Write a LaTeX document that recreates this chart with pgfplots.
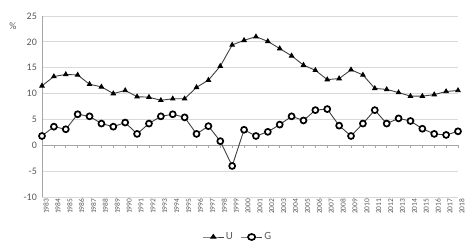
\documentclass[border=0pt]{standalone}
\usepackage{fontspec}
\setmainfont{Carlito}
\usepackage{pgfplots}
\pgfplotsset{compat=1.18}
\definecolor{txt}{HTML}{595959}
\definecolor{grd}{HTML}{D9D9D9}
\definecolor{ax}{HTML}{A6A6A6}
\definecolor{ln}{HTML}{404040}
\begin{document}
\begin{tikzpicture}
\begin{axis}[
  scale only axis, width=416bp, height=181bp,
  xmin=1983, xmax=2018, ymin=-10, ymax=25,
  xtick={1983,...,2018}, ytick={-10,-5,...,25},
  /pgf/number format/assume math mode=true,
  xticklabel={\pgfmathprintnumber[1000 sep={}]{\tick}},
  xticklabel style={rotate=90, anchor=east, font=\fontsize{7.5}{8}\selectfont, text=txt, inner sep=1.5pt, yshift=-4bp},
  yticklabel style={font=\fontsize{10}{11}\selectfont, text=txt, inner sep=2pt, xshift=-3bp},
  axis y line*=left, axis x line*=bottom,
  x axis line style={draw=none},
  y axis line style={draw=ax, line width=0.8pt, -},
  major tick length=0pt,
  ymajorgrids, grid style={grd, line width=0.8pt},
  clip=false,
  legend style={at={(0.471,-0.221)}, anchor=center, draw=none, fill=none,
    font=\fontsize{11}{12}\selectfont, text=txt, legend columns=2,
    /tikz/every even column/.append style={column sep=6pt}},
  legend image post style={xscale=1.2},
]
\draw[ax, line width=0.8pt] (axis cs:1983,0) -- (axis cs:2018,0);
\pgfplotsinvokeforeach{1983,...,2018}{\draw[ax, line width=0.6pt] (axis cs:#1,0) -- ++(0pt,-3bp);}
\addplot[ln, line width=0.9pt, mark=triangle*, mark size=2.5pt, mark options={fill=black, draw=black}] coordinates {
(1983,11.5)(1984,13.3)(1985,13.7)(1986,13.6)(1987,11.8)(1988,11.3)(1989,10.0)(1990,10.6)
(1991,9.4)(1992,9.3)(1993,8.7)(1994,9.0)(1995,9.0)(1996,11.2)(1997,12.6)(1998,15.3)
(1999,19.4)(2000,20.3)(2001,21.0)(2002,20.1)(2003,18.7)(2004,17.3)(2005,15.5)(2006,14.5)
(2007,12.7)(2008,12.9)(2009,14.6)(2010,13.6)(2011,11.0)(2012,10.8)(2013,10.2)(2014,9.5)
(2015,9.5)(2016,9.8)(2017,10.4)(2018,10.6)};
\addlegendentry{U}
\addplot[ln, line width=0.9pt, mark=*, mark size=3pt, mark options={fill=white, draw=black, line width=1.7pt}] coordinates {
(1983,1.8)(1984,3.6)(1985,3.1)(1986,6.0)(1987,5.6)(1988,4.2)(1989,3.6)(1990,4.4)
(1991,2.2)(1992,4.2)(1993,5.6)(1994,6.0)(1995,5.4)(1996,2.2)(1997,3.7)(1998,0.8)
(1999,-4.0)(2000,3.0)(2001,1.8)(2002,2.6)(2003,4.0)(2004,5.6)(2005,4.8)(2006,6.8)
(2007,7.0)(2008,3.8)(2009,1.8)(2010,4.2)(2011,6.8)(2012,4.2)(2013,5.2)(2014,4.7)
(2015,3.2)(2016,2.2)(2017,2.0)(2018,2.7)};
\addlegendentry{G}
\node[text=txt, font=\fontsize{10}{11}\selectfont] at (rel axis cs:-0.07,0.945) {\%};
\coordinate (sw) at (rel axis cs:0,0);
\end{axis}
\pgfresetboundingbox
\path ([xshift=-42bp,yshift=-53bp]sw) rectangle ([xshift=430bp,yshift=197bp]sw);
\end{tikzpicture}
\end{document}
